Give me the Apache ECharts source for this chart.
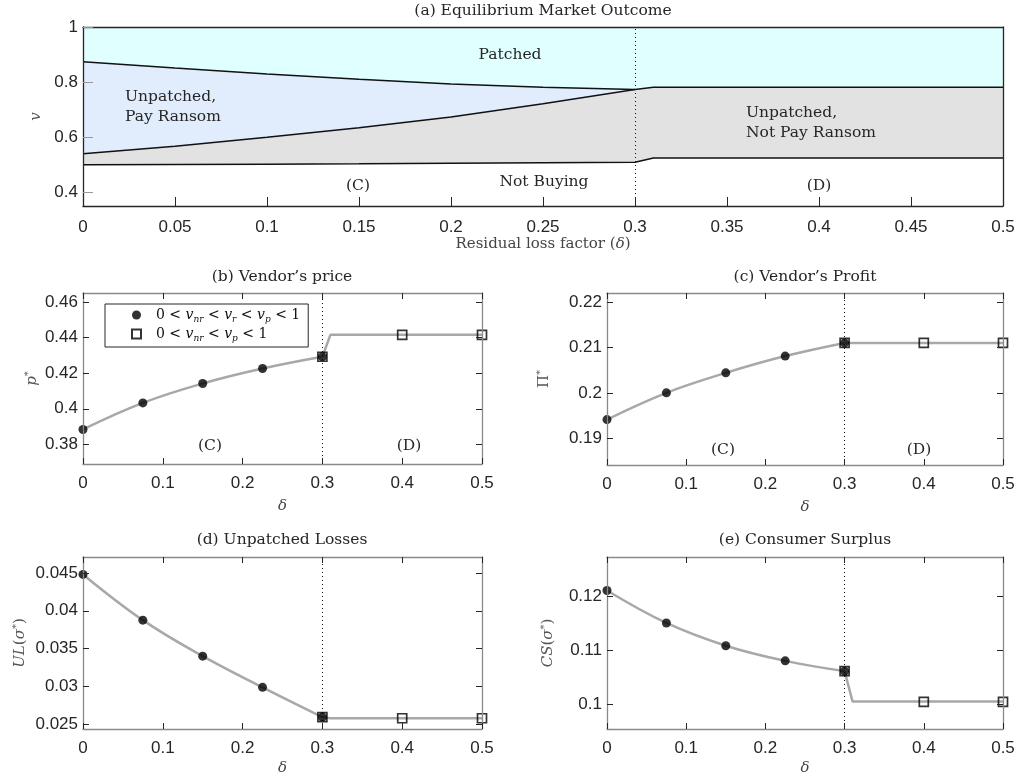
<!DOCTYPE html>
<html>
<head>
<meta charset="utf-8">
<script src="https://cdn.jsdelivr.net/npm/echarts@6/dist/echarts.min.js"></script>
<style>
  html, body { margin: 0; padding: 0; background: #fff; }
  #chart { width: 1018px; height: 780px; }
</style>
</head>
<body>
<div id="chart"></div>
<script>
// ---- Panel (a): consumer thresholds against the residual loss factor ----
const deltaA    = [0, 0.05, 0.1, 0.15, 0.2, 0.25, 0.3];
const deltaTail = [0.31, 0.5];
const vP        = [0.874, 0.851, 0.829, 0.810, 0.793, 0.781, 0.773];
const vPTail    = [0.781, 0.781];
const vR        = [0.540, 0.567, 0.600, 0.634, 0.673, 0.721, 0.773];
const vNR       = [0.500, 0.501, 0.502, 0.503, 0.505, 0.507, 0.509];
const vNRTail   = [0.524, 0.524];

// ---- Panels (b)-(e): equilibrium quantities ----
const deltaC    = [0, 0.075, 0.15, 0.225, 0.3];   // regime (C) markers
const deltaD    = [0.3, 0.4, 0.5];                // regime (D) markers
const deltaLine = [0.3, 0.31, 0.5];               // segment after the switch

const priceC  = [0.3884, 0.4033, 0.4142, 0.4226, 0.4292];
const priceD  = [0.4292, 0.4415, 0.4415];
const priceL  = [0.4292, 0.4415, 0.4415];

const profitC = [0.1941, 0.2000, 0.2044, 0.2081, 0.2110];
const profitD = [0.2110, 0.2110, 0.2110];
const profitL = [0.2110, 0.2110, 0.2110];

const lossC   = [0.0448, 0.03876, 0.0340, 0.02988, 0.02595];
const lossD   = [0.02595, 0.0258, 0.0258];
const lossL   = [0.02595, 0.0258, 0.0258];

const csC     = [0.1210, 0.1150, 0.1108, 0.1080, 0.1061];
const csD     = [0.1061, 0.1004, 0.1004];
const csL     = [0.1061, 0.1005, 0.1005];

const switchDelta = 0.3;

// ---- Tick values ----
const yTicksA = [0.4, 0.6, 0.8, 1];
const yTicksB = [0.38, 0.4, 0.42, 0.44, 0.46];
const yTicksC = [0.19, 0.2, 0.21, 0.22];
const yTicksD = [0.025, 0.03, 0.035, 0.04, 0.045];
const yTicksE = [0.1, 0.11, 0.12];

const zip = (xs, ys) => xs.map((x, i) => [x, ys[i]]);

const SERIF = 'DejaVu Serif';
const SANS = 'Liberation Sans';
const INK = '#262626';
const TXT = 15.5;

const grids = [
  { left: 83,  top: 27,  width: 920, height: 179 },
  { left: 83,  top: 293, width: 399, height: 171 },
  { left: 607, top: 293, width: 396, height: 172 },
  { left: 83,  top: 557, width: 399, height: 172 },
  { left: 607, top: 557, width: 396, height: 172 }
];

const yRanges = [
  { min: 0.35,    max: 1,      ticks: yTicksA },
  { min: 0.369,   max: 0.465,  ticks: yTicksB },
  { min: 0.1841,  max: 0.222,  ticks: yTicksC },
  { min: 0.02438, max: 0.0471, ticks: yTicksD },
  { min: 0.0954,  max: 0.1272, ticks: yTicksE }
];

const richMath = {
  i:   { fontFamily: SERIF, fontStyle: 'italic', fontSize: 15, color: '#555', lineHeight: 18 },
  m:   { fontFamily: SERIF, fontSize: 15, color: '#555', lineHeight: 18 },
  sup: { fontFamily: SERIF, fontSize: 10, color: '#555', lineHeight: 10, verticalAlign: 'top' }
};

const yNames = [
  { text: '{i|v}', gap: 36 },
  { text: '{i|p}{sup|*}', gap: 42 },
  { text: '{m|Π}{sup|*}', gap: 54 },
  { text: '{i|UL}{m|(}{i|σ}{sup|*}{m|)}', gap: 54 },
  { text: '{i|CS}{m|(}{i|σ}{sup|*}{m|)}', gap: 50 }
];
const xNameGaps = [31, 35, 35, 32, 32];

const xAxes = [];
const yAxes = [];
grids.forEach((g, i) => {
  const top = i === 0;
  const lineColor = top ? INK : '#8a8a8a';
  xAxes.push({
    type: 'value', gridIndex: i, min: 0, max: 0.5, interval: top ? 0.05 : 0.1,
    position: 'bottom', z: 20,
    axisLine: { show: true, onZero: false, lineStyle: { color: lineColor, width: 1.3 } },
    axisTick: { show: true, inside: true, length: top ? 9 : 6, lineStyle: { color: INK, width: 1 } },
    axisLabel: { color: INK, fontFamily: SANS, fontSize: 17, margin: top ? 13 : 11 },
    splitLine: { show: false },
    name: top ? 'Residual loss factor ({i|δ})' : '{i|δ}',
    nameLocation: 'middle', nameGap: xNameGaps[i],
    nameTextStyle: { fontFamily: SERIF, fontSize: 15, color: '#444',
      rich: { i: { fontFamily: SERIF, fontStyle: 'italic', fontSize: 15, color: '#444' } } }
  });
  yAxes.push({
    type: 'value', gridIndex: i, min: yRanges[i].min, max: yRanges[i].max,
    position: 'left', z: 20,
    axisLine: { show: true, onZero: false, lineStyle: { color: lineColor, width: 1.3 } },
    axisTick: { show: true, inside: true, length: top ? 10 : 6, customValues: yRanges[i].ticks,
      lineStyle: { color: top ? '#999' : INK, width: 1 } },
    axisLabel: { color: INK, fontFamily: SANS, fontSize: 17, margin: 5, customValues: yRanges[i].ticks },
    splitLine: { show: false },
    name: yNames[i].text, nameLocation: 'middle', nameGap: yNames[i].gap,
    nameTextStyle: { rich: richMath }
  });
});
grids.forEach((g, i) => {
  const top = i === 0;
  const lineColor = top ? INK : '#8a8a8a';
  xAxes.push({
    type: 'value', gridIndex: i, min: 0, max: 0.5, interval: top ? 0.05 : 0.1,
    position: 'top', z: 20,
    axisLine: { show: true, onZero: false, lineStyle: { color: lineColor, width: 1.3 } },
    axisTick: { show: !top, inside: true, length: 6, lineStyle: { color: INK, width: 1 } },
    axisLabel: { show: false }, splitLine: { show: false }
  });
  yAxes.push({
    type: 'value', gridIndex: i, min: yRanges[i].min, max: yRanges[i].max,
    position: 'right', z: 20,
    axisLine: { show: true, onZero: false, lineStyle: { color: lineColor, width: 1.3 } },
    axisTick: { show: !top, inside: true, length: 6, customValues: yRanges[i].ticks,
      lineStyle: { color: INK, width: 1 } },
    axisLabel: { show: false }, splitLine: { show: false }
  });
});

const dottedSwitch = {
  silent: true, symbol: 'none', label: { show: false },
  lineStyle: { type: [1, 3], color: '#111', width: 1 },
  data: [{ xAxis: switchDelta }]
};

// Panel (a) regions, painted from the top down
const vPAll   = zip(deltaA.concat(deltaTail), vP.concat(vPTail));
const grayTop = zip(deltaA.concat(deltaTail), vR.concat(vPTail));
const vNRAll  = zip(deltaA.concat(deltaTail), vNR.concat(vNRTail));
const areaSeries = (data, origin, color, z) => ({
  type: 'line', xAxisIndex: 0, yAxisIndex: 0, data, symbol: 'none', z, silent: true,
  lineStyle: { width: 0 }, areaStyle: { origin, color, opacity: 1 }
});
const edgeSeries = (data, z, extra) => Object.assign({
  type: 'line', xAxisIndex: 0, yAxisIndex: 0, data, symbol: 'none', z, silent: true,
  lineStyle: { color: '#111', width: 1.5 }
}, extra || {});

const series = [
  areaSeries(vPAll, 'end', '#e0ffff', 1),
  areaSeries(vPAll, 'start', '#e1ecfd', 2),
  areaSeries(grayTop, 'start', '#e2e2e2', 3),
  areaSeries(vNRAll, 'start', '#ffffff', 4),
  edgeSeries(vPAll, 6),
  edgeSeries(zip(deltaA, vR), 6),
  edgeSeries(vNRAll, 6, { markLine: dottedSwitch })
];

// Panels (b)-(e)
const NAME_C = 'regimeC';
const NAME_D = 'regimeD';
const panels = [
  { c: priceC,  d: priceD,  l: priceL },
  { c: profitC, d: profitD, l: profitL },
  { c: lossC,   d: lossD,   l: lossL },
  { c: csC,     d: csD,     l: csL }
];
panels.forEach((p, k) => {
  const ax = k + 1;
  const lineStyle = { color: '#a8a8a8', width: 2.5 };
  series.push({
    type: 'line', xAxisIndex: ax, yAxisIndex: ax, data: zip(deltaC, p.c),
    smooth: 0.4, symbol: 'none', lineStyle, z: 3, silent: true,
    markLine: dottedSwitch
  });
  series.push({
    type: 'line', xAxisIndex: ax, yAxisIndex: ax, data: zip(deltaLine, p.l),
    symbol: 'none', lineStyle, z: 3, silent: true
  });
  series.push({
    type: 'scatter', name: NAME_C, xAxisIndex: ax, yAxisIndex: ax, data: zip(deltaC, p.c),
    symbol: 'circle', symbolSize: 9, itemStyle: { color: '#000' }, z: 5, silent: true
  });
  series.push({
    type: 'scatter', name: NAME_D, xAxisIndex: ax, yAxisIndex: ax, data: zip(deltaD, p.d),
    symbol: 'rect', symbolSize: 9,
    itemStyle: { color: 'rgba(0,0,0,0)', borderColor: '#000', borderWidth: 1.7 }, z: 6, silent: true
  });
});

const legendRich = {
  g: { width: 10 },
  m: { fontFamily: SERIF, fontSize: 14, color: '#111', lineHeight: 18 },
  i: { fontFamily: SERIF, fontStyle: 'italic', fontSize: 14, color: '#111', lineHeight: 18 },
  s: { fontFamily: SERIF, fontStyle: 'italic', fontSize: 9, color: '#111', lineHeight: 9, verticalAlign: 'bottom' }
};
const legendText = {
  regimeC: '{g| }{m|0 < }{i|v}{s|nr}{m| < }{i|v}{s|r}{m| < }{i|v}{s|p}{m| < 1}',
  regimeD: '{g| }{m|0 < }{i|v}{s|nr}{m| < }{i|v}{s|p}{m| < 1}'
};

const titleStyle = { fontFamily: SERIF, fontSize: TXT, fontWeight: 'normal', color: INK };
const titles = [
  { text: '(a) Equilibrium Market Outcome', left: 543, top: 3 },
  { text: '(b) Vendor’s price', left: 282, top: 269 },
  { text: '(c) Vendor’s Profit', left: 805, top: 269 },
  { text: '(d) Unpatched Losses', left: 282, top: 532 },
  { text: '(e) Consumer Surplus', left: 805, top: 532 }
].map(t => Object.assign(t, { textAlign: 'center', textStyle: titleStyle, padding: 0 }));

const note = (text, x, y, align) => ({
  type: 'text', x, y, z: 30, silent: true,
  style: { text, fill: INK, font: TXT + 'px "' + SERIF + '"', align: align || 'center',
    verticalAlign: 'middle', lineHeight: 20 }
});

const graphics = [
  note('Patched', 510, 55),
  note('Unpatched,\nPay Ransom', 125, 107, 'left'),
  note('Unpatched,\nNot Pay Ransom', 746, 123, 'left'),
  note('(C)', 358, 186),
  note('Not Buying', 544, 182),
  note('(D)', 819, 186),
  note('(C)', 210, 446),
  note('(D)', 409, 446),
  note('(C)', 723, 450),
  note('(D)', 919, 450)
];

const chart = echarts.init(document.getElementById('chart'), null, { renderer: 'canvas' });
chart.setOption({
  animation: false,
  backgroundColor: '#fff',
  title: titles,
  grid: grids,
  xAxis: xAxes,
  yAxis: yAxes,
  legend: {
    data: [{ name: NAME_C, icon: 'circle' }, { name: NAME_D, icon: 'rect' }],
    selectedMode: false, orient: 'vertical',
    left: 105, top: 304, itemGap: 3, itemWidth: 9, itemHeight: 9,
    padding: [4, 8, 4, 26], borderColor: INK, borderWidth: 1, backgroundColor: '#fff',
    formatter: name => legendText[name],
    textStyle: { rich: legendRich }
  },
  series,
  graphic: graphics
});
</script>
</body>
</html>
